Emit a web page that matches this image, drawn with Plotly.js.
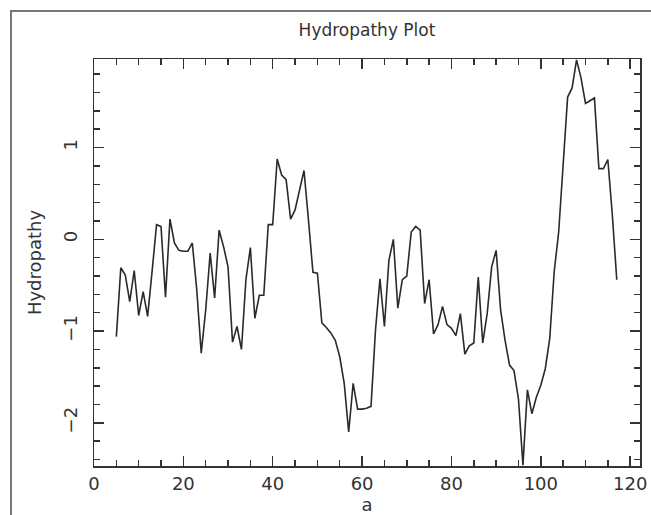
<!DOCTYPE html>
<html>
<head>
<meta charset="utf-8">
<script src="https://cdn.plot.ly/plotly-3.0.1.min.js"></script>
<style>
  html, body { margin: 0; padding: 0; background: #fff; }
  #wrap { position: relative; width: 651px; height: 515px; overflow: hidden; }
  #chart { position: absolute; left: 0; top: 0; width: 651px; height: 515px; }
  #frame { position: absolute; left: 10px; top: 10px; width: 700px; height: 600px;
           border-left: 2px solid #777; border-top: 2px solid #777; pointer-events: none; }
</style>
</head>
<body>
<div id="wrap">
  <div id="chart"></div>
  <div id="frame"></div>
</div>
<script>
const positions = [5,6,7,8,9,10,11,12,13,14,15,16,17,18,19,20,21,22,23,24,25,26,27,28,29,30,
  31,32,33,34,35,36,37,38,39,40,41,42,43,44,45,46,47,48,49,50,51,52,53,54,55,56,57,58,59,60,
  61,62,63,64,65,66,67,68,69,70,71,72,73,74,75,76,77,78,79,80,81,82,83,84,85,86,87,88,89,90,
  91,92,93,94,95,96,97,98,99,100,101,102,103,104,105,106,107,108,109,110,111,112,113,114,115,116,117];
const hydropathy = [
  -1.06, -0.31, -0.39, -0.68, -0.34, -0.83, -0.57, -0.84, -0.35, 0.16,
   0.14, -0.63, 0.22, -0.04, -0.12, -0.13, -0.13, -0.04, -0.55, -1.24,
  -0.77, -0.15, -0.64, 0.10, -0.08, -0.30, -1.12, -0.95, -1.20, -0.44,
  -0.09, -0.86, -0.61, -0.61, 0.16, 0.16, 0.875, 0.70, 0.65, 0.22,
   0.32, 0.54, 0.75, 0.21, -0.36, -0.37, -0.91, -0.96, -1.02, -1.10,
  -1.28, -1.57, -2.10, -1.57, -1.85, -1.85, -1.84, -1.82, -0.99, -0.43,
  -0.95, -0.23, 0.00, -0.75, -0.44, -0.40, 0.08, 0.14, 0.10, -0.70,
  -0.44, -1.03, -0.93, -0.73, -0.93, -0.97, -1.05, -0.81, -1.25, -1.16,
  -1.13, -0.41, -1.13, -0.81, -0.30, -0.12, -0.77, -1.10, -1.37, -1.43,
  -1.74, -2.46, -1.64, -1.90, -1.72, -1.59, -1.41, -1.08, -0.35, 0.08,
   0.77, 1.55, 1.65, 1.955, 1.76, 1.48, 1.51, 1.54, 0.77, 0.77,
   0.87, 0.27, -0.44
];
const xTickVals = [0, 20, 40, 60, 80, 100, 120];
const yTickVals = [-2, -1, 0, 1];

const axisCommon = {
  showgrid: false, zeroline: false, showline: true, linecolor: '#333', linewidth: 1.5,
  mirror: 'allticks', ticks: 'inside', ticklen: 10, tickwidth: 1.5, tickcolor: '#333',
  tickfont: { family: 'DejaVu Sans', size: 18, color: '#333' }
};

const layout = {
  width: 651, height: 515,
  margin: { l: 94, r: 11, t: 59, b: 49 },
  paper_bgcolor: '#fff', plot_bgcolor: '#fff',
  showlegend: false,
  title: { text: 'Hydropathy Plot', font: { family: 'DejaVu Sans', size: 17, color: '#333' },
           x: 0.5, xref: 'paper', y: 1 - 30 / 515, yref: 'container', yanchor: 'middle' },
  xaxis: Object.assign({}, axisCommon, {
    range: [0, 122.2], tickmode: 'array', tickvals: xTickVals, ticklabelstandoff: 1,
    minor: { dtick: 5, tick0: 0, ticks: 'inside', ticklen: 6, tickwidth: 1.5, tickcolor: '#333' },
    title: { text: 'a', standoff: 7, font: { family: 'DejaVu Sans', size: 18, color: '#333' } }
  }),
  yaxis: Object.assign({}, axisCommon, {
    range: [-2.47, 1.965], tickmode: 'array', tickvals: yTickVals, tickangle: -90,
    ticklabelstandoff: 8,
    minor: { dtick: 0.2, tick0: 0, ticks: 'inside', ticklen: 6, tickwidth: 1.5, tickcolor: '#333' },
    title: { text: 'Hydropathy', standoff: 14, font: { family: 'DejaVu Sans', size: 18, color: '#333' } }
  })
};

Plotly.newPlot('chart', [{
  x: positions, y: hydropathy, type: 'scatter', mode: 'lines',
  line: { color: '#2a2a2a', width: 1.6 }, hoverinfo: 'x+y'
}], layout, { staticPlot: true, displayModeBar: false });
</script>
</body>
</html>
